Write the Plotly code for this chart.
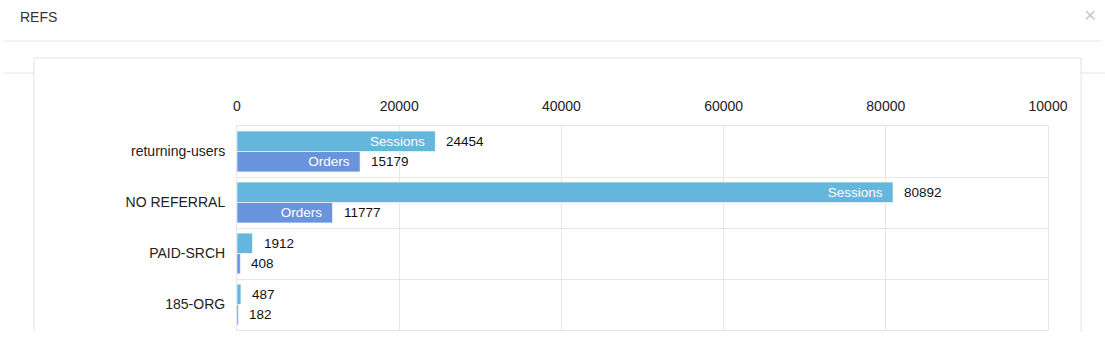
import plotly.graph_objects as go

# ---- data ----
categories = ["returning-users", "NO REFERRAL", "PAID-SRCH", "185-ORG"]
sessions = [24454, 80892, 1912, 487]
orders = [15179, 11777, 408, 182]
sessions_inside = ["Sessions", "Sessions", "", ""]
orders_inside = ["Orders", "Orders", "", ""]
x_tickvals = [0, 20000, 40000, 60000, 80000, 100000]
x_ticktext = ["0", "20000", "40000", "60000", "80000", "10000"]
title_text = "REFS"

W, H = 1105, 352
L, R, T, B = 237, 1048, 126, 330  # plot area in px

def px(x):
    return (x - L) / (R - L)

def py(y):
    return (B - y) / (B - T)

SESS_COLOR = "rgb(100,182,221)"
ORD_COLOR = "rgb(106,147,221)"
FONT = "Liberation Sans, Arial, sans-serif"
PAD = "\u00a0\u00a0"

fig = go.Figure()
fig.add_trace(go.Bar(
    name="Sessions", y=categories, x=sessions, orientation="h",
    marker=dict(color=SESS_COLOR, line=dict(color="rgba(255,255,255,0.6)", width=1)),
    text=[t + PAD if t else "" for t in sessions_inside],
    textposition="inside", insidetextanchor="end", constraintext="none", textangle=0,
    insidetextfont=dict(color="white", size=13.5, family=FONT),
    cliponaxis=True, hoverinfo="x+y",
))
fig.add_trace(go.Bar(
    name="Orders", y=categories, x=orders, orientation="h",
    marker=dict(color=ORD_COLOR, line=dict(color="rgba(255,255,255,0.6)", width=1)),
    text=[t + PAD if t else "" for t in orders_inside],
    textposition="inside", insidetextanchor="end", constraintext="none", textangle=0,
    insidetextfont=dict(color="white", size=13.5, family=FONT),
    cliponaxis=True, hoverinfo="x+y",
))

annotations = []
half = (B - T) / len(categories) * 0.8 / 4
for cat, s, o in zip(categories, sessions, orders):
    annotations.append(dict(x=s, y=cat, xref="x", yref="y", text=str(s),
                            xanchor="left", yanchor="middle", xshift=9, yshift=half,
                            showarrow=False, font=dict(size=13.5, color="#111", family=FONT)))
    annotations.append(dict(x=o, y=cat, xref="x", yref="y", text=str(o),
                            xanchor="left", yanchor="middle", xshift=9, yshift=-half,
                            showarrow=False, font=dict(size=13.5, color="#111", family=FONT)))

annotations.append(dict(x=px(18), y=py(17), xref="paper", yref="paper", text=title_text,
                        xanchor="left", yanchor="middle", showarrow=False,
                        font=dict(size=14, color="#333", family=FONT)))
annotations.append(dict(x=px(1090), y=py(15), xref="paper", yref="paper", text="×",
                        xanchor="center", yanchor="middle", showarrow=False,
                        font=dict(size=21, color="#c8c8c8", family=FONT)))

LINE = dict(color="#e3e3e3", width=1)
shapes = [
    dict(type="line", xref="paper", yref="paper", x0=px(4), x1=px(1101), y0=py(41), y1=py(41), line=LINE, layer="below"),
    dict(type="line", xref="paper", yref="paper", x0=px(4), x1=px(34), y0=py(73), y1=py(73), line=LINE, layer="below"),
    dict(type="line", xref="paper", yref="paper", x0=px(1081), x1=px(1105), y0=py(73), y1=py(73), line=LINE, layer="below"),
    dict(type="line", xref="paper", yref="paper", x0=px(34), x1=px(1081), y0=py(58), y1=py(58), line=LINE, layer="below"),
    dict(type="line", xref="paper", yref="paper", x0=px(34), x1=px(34), y0=py(58), y1=py(332), line=LINE, layer="below"),
    dict(type="line", xref="paper", yref="paper", x0=px(1081), x1=px(1081), y0=py(58), y1=py(332), line=LINE, layer="below"),
]

fig.update_layout(
    width=W, height=H,
    margin=dict(l=L, r=W - R, t=T, b=H - B, autoexpand=False),
    paper_bgcolor="white", plot_bgcolor="white",
    barmode="group", bargap=0.2, bargroupgap=0.0,
    showlegend=False,
    font=dict(family=FONT, size=14, color="#333"),
    annotations=annotations, shapes=shapes,
    xaxis=dict(side="top", range=[0, 100000], tickvals=x_tickvals, ticktext=x_ticktext,
               showgrid=True, gridcolor="#e6e6e6", gridwidth=1, zeroline=False,
               showline=True, mirror=True, linecolor="#e6e6e6", linewidth=1,
               ticks="", ticklabelstandoff=8,
               tickfont=dict(size=14, color="#222", family=FONT), fixedrange=True),
    yaxis=dict(type="category", categoryorder="array", categoryarray=categories,
               range=[len(categories) - 0.5, -0.5], tickson="boundaries",
               showgrid=True, gridcolor="#e6e6e6", gridwidth=1, ticks="",
               showline=True, mirror=True, linecolor="#e6e6e6", linewidth=1,
               ticklabelstandoff=8,
               tickfont=dict(size=14, color="#222", family=FONT), fixedrange=True),
)

fig.write_html("out.html")
